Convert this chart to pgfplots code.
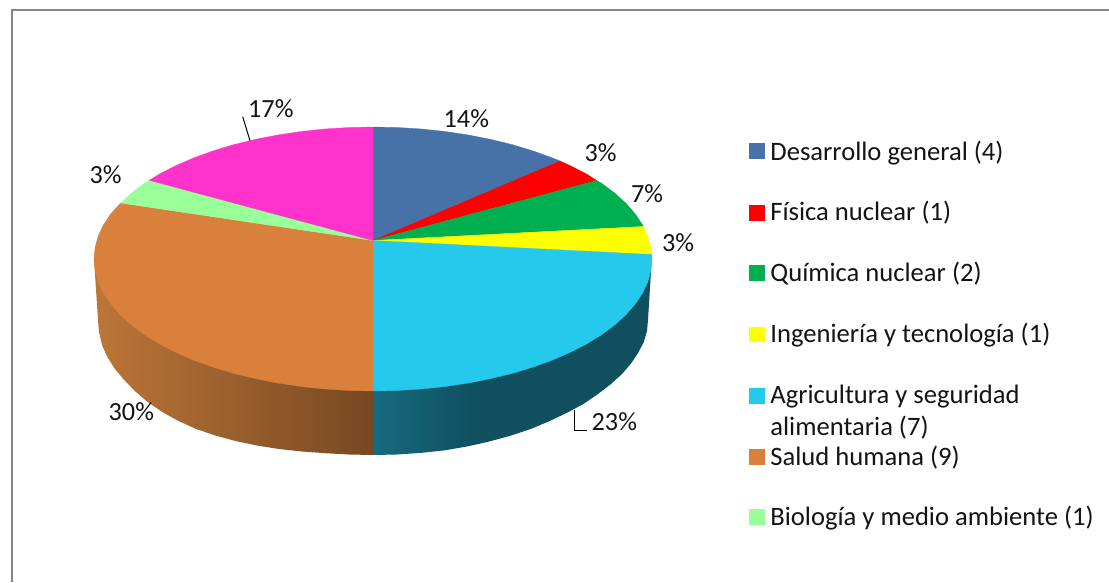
\documentclass[border=0pt]{standalone}
\usepackage{fontspec}
\usepackage{pgfplots}
\pgfplotsset{compat=1.18}
\setmainfont{Carlito}
\definecolor{cBlue}{HTML}{4672A8}
\definecolor{cRed}{HTML}{FF0000}
\definecolor{cGreen}{HTML}{00B050}
\definecolor{cYellow}{HTML}{FFFF00}
\definecolor{cCyan}{HTML}{25C9EB}
\definecolor{cOrange}{HTML}{D9803C}
\definecolor{cLG}{HTML}{99FF99}
\definecolor{cMag}{HTML}{FF33CC}
\definecolor{wOrL}{HTML}{BC7638}
\definecolor{wOrR}{HTML}{774822}
\definecolor{wCyL}{HTML}{17697F}
\definecolor{wCyR}{HTML}{0F4F5E}
\definecolor{frameG}{HTML}{868686}
\newcommand{\lab}{\fontsize{26.6}{30}\selectfont}
\newcommand{\pct}{\fontsize{26.2}{30}\selectfont}
\tikzset{lt/.style={anchor=base west,inner sep=0pt,font=\lab,text=black!92},
 pt/.style={anchor=base west,inner sep=0pt,font=\pct,text=black!92}}
\pgfplotsset{slice/.style={fill=#1,draw=#1,line width=0.3pt,mark=none},
 sw/.style={only marks,mark=square*,mark size=7.4pt,color=#1,mark options={fill=#1,draw=#1,line width=0.2pt}}}
\begin{document}
\begin{tikzpicture}
\begin{axis}[scale only axis,width=1109pt,height=582pt,xmin=0,xmax=1109,ymin=0,ymax=582,y dir=reverse,hide axis]
% background and frame
\addplot[fill=white,draw=none,mark=none] coordinates {(0,0)(1109,0)(1109,582)(0,582)} -- cycle;
\addplot[color=frameG,line width=2pt,mark=none] coordinates {(11.5,582)(11.5,9.5)(1109,9.5)};
% side walls
\addplot[left color=wOrL,right color=wOrR,draw=none,mark=none] coordinates {(373,259)(94,259)(98,320)(99,332)(102.2,345.5)(107.4,357)(114.6,368.5)(123.8,379.5)(134.8,391)(147.7,402)(162.3,412)(178.5,421)(196.2,429)(215.3,435.5)(235.5,441)(257,445.5)(279,449)(302,451.5)(325.3,453.2)(349,454.5)(373,455)} -- cycle;
\addplot[left color=wCyL,right color=wCyR,draw=none,mark=none] coordinates {(373,300)(373,455)(397,454.5)(420.7,452.9)(444.2,450.4)(467,446.5)(480,443.6)(480,300)} -- cycle;
\addplot[fill=wCyR,draw=none,mark=none] coordinates {(479.5,300)(479.5,443.7)(489.2,441.5)(510.5,435.7)(530.7,429)(549.8,421)(567.5,412.5)(583.7,403.8)(598,394)(611,384)(622,374)(631,363.5)(638,353)(643.8,342)(647,331)(648,320)(652,255)} -- cycle;
% top slices
\addplot[slice=cBlue] coordinates {(373,240.5)(373,127)(397.3,127.5)(421.4,129)(445.2,131.5)(468.4,135)(490.9,139.4)(512.5,144.7)(533,150.9)(552.3,157.9)(560,161)} -- cycle;
\addplot[slice=cRed] coordinates {(373,240.5)(560,161)(570.3,165.7)(586.7,174.1)(596.7,180.5)} -- cycle;
\addplot[slice=cGreen] coordinates {(373,240.5)(596.7,180.5)(601.6,183.3)(614.6,193)(625.9,203.2)(635.2,213.9)(642.5,224.8)(643.3,226.5)} -- cycle;
\addplot[slice=cYellow] coordinates {(373,240.5)(643.3,226.5)(647.8,236.1)(650.9,247.5)(651.7,254.5)} -- cycle;
\addplot[slice=cCyan] coordinates {(373,240.5)(651.7,254.5)(652,259)(650.9,270.5)(647.8,281.9)(642.5,293.2)(635.2,304.1)(625.9,314.8)(614.6,325)(601.6,334.7)(586.7,343.9)(570.3,352.3)(552.3,360.1)(533,367.1)(512.5,373.3)(490.9,378.6)(468.4,383)(445.2,386.5)(421.4,389)(397.3,390.5)(373,391)} -- cycle;
\addplot[slice=cOrange] coordinates {(373,240.5)(373,391)(348.7,390.5)(324.6,389)(300.8,386.5)(277.6,383)(255.1,378.6)(233.5,373.3)(213,367.1)(193.7,360.1)(175.7,352.3)(159.3,343.9)(144.4,334.7)(131.4,325)(120.1,314.8)(110.8,304.1)(103.5,293.2)(98.2,281.9)(95.1,270.5)(94,259)(95.1,247.5)(98.2,236.1)(103.5,224.8)(110.8,213.9)(120.7,203)} -- cycle;
\addplot[slice=cLG] coordinates {(373,240.5)(120.7,203)(131.4,193)(144.4,183.3)(149.3,180.3)} -- cycle;
\addplot[slice=cMag] coordinates {(373,240.5)(149.3,180.3)(159.3,174.1)(175.7,165.7)(193.7,157.9)(213,150.9)(233.5,144.7)(255.1,139.4)(277.6,135)(300.8,131.5)(324.6,129)(348.7,127.5)(373,127)} -- cycle;
% leader lines
\addplot[color=black,line width=1pt,mark=none] coordinates {(242.7,116.7)(250,140.7)};
\addplot[color=black,line width=1pt,mark=none] coordinates {(574.7,410)(574.7,430.7)(586.7,430.7)};
% legend swatches
\addplot[sw=cBlue] coordinates {(756.5,150.5)};
\addplot[sw=cRed] coordinates {(756.5,212.5)};
\addplot[sw=cGreen] coordinates {(756.5,272.5)};
\addplot[sw=cYellow] coordinates {(756.5,334)};
\addplot[sw=cCyan] coordinates {(756.5,395.7)};
\addplot[sw=cOrange] coordinates {(756.5,456.7)};
\addplot[sw=cLG] coordinates {(756.5,516.7)};
% legend text
\node[lt] at (axis cs:770.2,160.1) {Desarrollo general (4)};
\node[lt] at (axis cs:770.2,220.8) {Física nuclear (1)};
\node[lt] at (axis cs:770.2,281.8) {Química nuclear (2)};
\node[lt] at (axis cs:770.2,342.8) {Ingeniería y tecnología (1)};
\node[lt] at (axis cs:770.2,403.5) {Agricultura y seguridad};
\node[lt] at (axis cs:770.2,435.1) {alimentaria (7)};
\node[lt] at (axis cs:770.2,465.1) {Salud humana (9)};
\node[lt] at (axis cs:770.2,525.1) {Biología y medio ambiente (1)};
% percent labels
\node[pt] at (axis cs:443.5,127) {14\%};
\node[pt] at (axis cs:584.5,161.2) {3\%};
\node[pt] at (axis cs:631,202.8) {7\%};
\node[pt] at (axis cs:662,251.5) {3\%};
\node[pt] at (axis cs:591.5,430.5) {23\%};
\node[pt] at (axis cs:108.5,420.5) {30\%};
\node[pt] at (axis cs:89.5,183.8) {3\%};
\node[pt] at (axis cs:248,117.2) {17\%};
\end{axis}
\end{tikzpicture}
\end{document}
